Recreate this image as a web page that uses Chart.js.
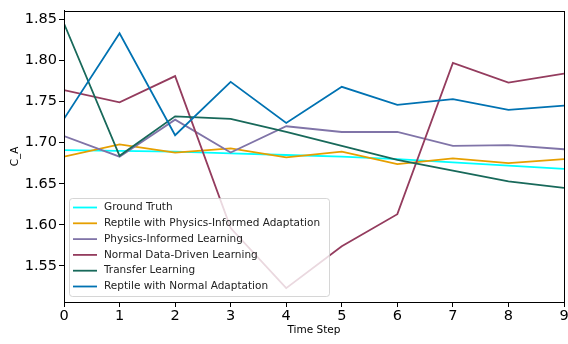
<!DOCTYPE html>
<html>
<head>
<meta charset="utf-8">
<script src="https://cdn.jsdelivr.net/npm/chart.js@4"></script>
<style>
  html, body { margin: 0; padding: 0; background: #fff; }
  #wrap { width: 568px; height: 344px; }
</style>
</head>
<body>
<div id="wrap"><canvas id="lineChart" width="568" height="344"></canvas></div>
<script>
const timeSteps = [0, 1, 2, 3, 4, 5, 6, 7, 8, 9];
const yTicks = [1.55, 1.60, 1.65, 1.70, 1.75, 1.80, 1.85];

const groundTruth     = [1.691, 1.690, 1.689, 1.687, 1.685, 1.683, 1.680, 1.676, 1.672, 1.668];
const reptilePhysics  = [1.683, 1.698, 1.688, 1.693, 1.682, 1.689, 1.674, 1.681, 1.675, 1.680];
const physicsInformed = [1.708, 1.683, 1.728, 1.688, 1.720, 1.713, 1.713, 1.696, 1.697, 1.692];
const normalData      = [1.764, 1.749, 1.781, 1.596, 1.523, 1.574, 1.613, 1.797, 1.773, 1.784];
const transfer        = [1.845, 1.684, 1.732, 1.729, 1.713, 1.696, 1.679, 1.666, 1.653, 1.645];
const reptileNormal   = [1.729, 1.833, 1.709, 1.774, 1.724, 1.768, 1.746, 1.753, 1.740, 1.745];

const seriesNames = [
  'Ground Truth',
  'Reptile with Physics-Informed Adaptation',
  'Physics-Informed Learning',
  'Normal Data-Driven Learning',
  'Transfer Learning',
  'Reptile with Normal Adaptation'
];
const seriesData = [groundTruth, reptilePhysics, physicsInformed, normalData, transfer, reptileNormal];
const seriesColors = ['#00ffff', '#e69f00', '#8074a8', '#943c5e', '#18695a', '#0072b2'];

const FONT = "'DejaVu Sans', sans-serif";

// matplotlib style legend box, drawn over the lines (semi transparent)
const legendBox = {
  id: 'legendBox',
  afterDatasetsDraw(chart) {
    const ctx = chart.ctx;
    const x = 69.5, y = 198.5, w = 260, h = 98;
    ctx.save();
    ctx.beginPath();
    ctx.roundRect(x, y, w, h, 3);
    ctx.fillStyle = 'rgba(255,255,255,0.8)';
    ctx.fill();
    ctx.strokeStyle = 'rgba(204,204,204,0.8)';
    ctx.lineWidth = 1;
    ctx.stroke();
    ctx.font = '10.5px ' + FONT;
    ctx.textBaseline = 'middle';
    ctx.fillStyle = '#222';
    seriesNames.forEach((name, i) => {
      const cy = 207.5 + i * 15.8;
      ctx.strokeStyle = seriesColors[i];
      ctx.lineWidth = 1.8;
      ctx.beginPath();
      ctx.moveTo(73, cy);
      ctx.lineTo(97, cy);
      ctx.stroke();
      ctx.fillText(name, 104, cy);
    });
    ctx.restore();
  }
};

// full black frame around the plot area
const frame = {
  id: 'frame',
  afterDraw(chart) {
    const a = chart.chartArea;
    const ctx = chart.ctx;
    ctx.save();
    ctx.strokeStyle = '#000';
    ctx.lineWidth = 1;
    ctx.strokeRect(Math.round(a.left) + 0.5, Math.round(a.top) + 0.5,
      Math.round(a.right - a.left), Math.round(a.bottom - a.top));
    ctx.restore();
  }
};

const datasets = seriesNames.map((name, i) => ({
  label: name,
  data: timeSteps.map((t, j) => ({ x: t, y: seriesData[i][j] })),
  borderColor: seriesColors[i],
  backgroundColor: seriesColors[i],
  borderWidth: 1.8,
  pointRadius: 0,
  tension: 0,
  order: -i
}));

new Chart(document.getElementById('lineChart'), {
  type: 'line',
  data: { datasets: datasets },
  options: {
    responsive: false,
    animation: false,
    layout: { padding: { top: 4, right: 4, left: 0, bottom: 0 } },
    plugins: { legend: { display: false }, tooltip: { enabled: false } },
    scales: {
      x: {
        type: 'linear',
        min: 0,
        max: 9,
        afterBuildTicks: s => { s.ticks = timeSteps.map(v => ({ value: v })); },
        afterFit: s => { s.height = 42; s.paddingRight = 0; s.paddingLeft = 0; },
        grid: { drawOnChartArea: false, drawTicks: true, tickLength: 5, color: '#000' },
        border: { color: '#000' },
        ticks: { color: '#000', padding: 1, maxRotation: 0, font: { family: FONT, size: 14.5 } },
        title: { display: true, text: 'Time Step', color: '#000', padding: { top: 0, bottom: 7 }, font: { family: FONT, size: 10.5 } }
      },
      y: {
        min: 1.5061,
        max: 1.8606,
        afterBuildTicks: s => { s.ticks = yTicks.map(v => ({ value: v })); },
        afterFit: s => { s.width = 64; },
        grid: { drawOnChartArea: false, drawTicks: true, tickLength: 5, color: '#000' },
        border: { color: '#000' },
        ticks: { color: '#000', padding: 2, callback: v => v.toFixed(2), font: { family: FONT, size: 14.5 } },
        title: { display: true, text: 'C_A', color: '#000', padding: { top: 9, bottom: 0 }, font: { family: FONT, size: 10.5 } }
      }
    }
  },
  plugins: [legendBox, frame]
});
</script>
</body>
</html>
